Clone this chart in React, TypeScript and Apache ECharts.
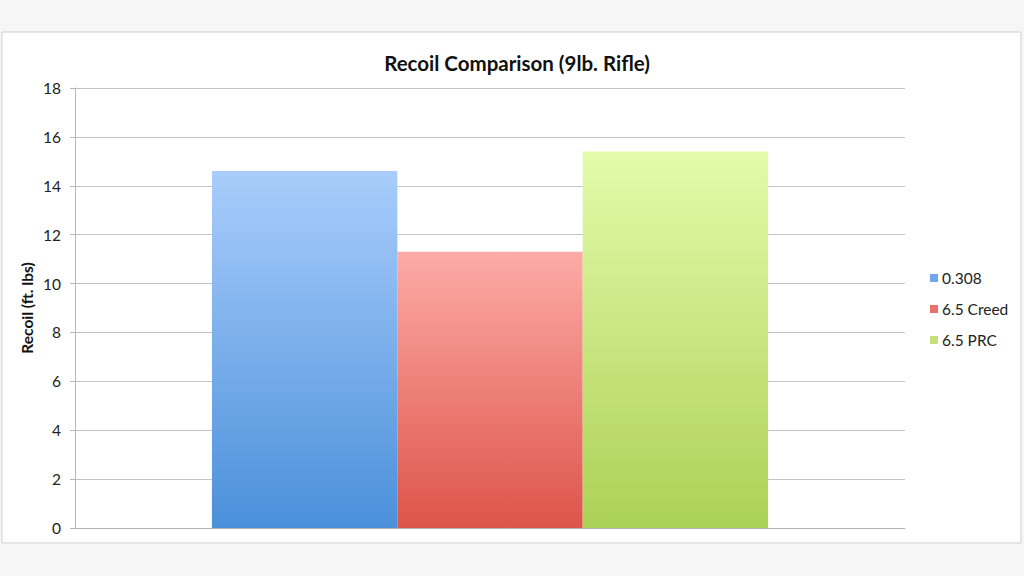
import React, { useEffect, useRef } from "react";
import * as echarts from "echarts";

const categories = [""];
const seriesNames = ["0.308", "6.5 Creed", "6.5 PRC"];
const seriesValues = [[14.6], [11.3], [15.4]];
const topColors = ["#a9cdfc", "#fdaba6", "#e3fbaa"];
const bottomColors = ["#4b90da", "#dd544a", "#acd157"];
const legendColors = ["#6fa8ea", "#ea7069", "#c6e07c"];

export default function App() {
  const ref = useRef<HTMLDivElement>(null);
  useEffect(() => {
    if (!ref.current) return;
    const chart = echarts.init(ref.current, null, { renderer: "svg" });
    const font = "Lato, 'Open Sans', sans-serif";
    chart.setOption({
      animation: false,
      backgroundColor: "#f6f6f6",
      graphic: [
        {
          type: "rect",
          shape: { x: 2, y: 32, width: 1019, height: 511 },
          style: { fill: "#ffffff", stroke: "#cfcfcf", lineWidth: 1 },
          z: -10,
          silent: true,
        },
      ],
      title: {
        text: "Recoil Comparison (9lb. Rifle)",
        left: 512,
        textAlign: "center",
        top: 47,
        textStyle: { fontFamily: font, fontSize: 20.5, fontWeight: "bold", color: "#111" },
      },
      legend: {
        orient: "vertical",
        left: 925,
        top: 265,
        itemWidth: 8,
        itemHeight: 8,
        itemGap: 15,
        icon: "rect",
        textStyle: { fontFamily: font, fontSize: 15.5, color: "#222", padding: [0, 0, 0, -1] },
        data: seriesNames.map((n, i) => ({ name: n, itemStyle: { color: legendColors[i] } })),
      },
      grid: { left: 75, right: 119, top: 88, bottom: 48, containLabel: false },
      xAxis: {
        type: "category",
        data: categories,
        axisLine: { show: true, lineStyle: { color: "#b5b5b5" } },
        axisTick: { show: false },
        axisLabel: { show: false },
      },
      yAxis: {
        type: "value",
        min: 0,
        max: 18,
        interval: 2,
        name: "Recoil (ft. lbs)",
        nameLocation: "middle",
        nameGap: 40,
        nameMoveOverlap: false,
        nameTextStyle: { fontFamily: font, fontSize: 15.5, fontWeight: "bold", color: "#111" },
        axisLine: { show: true, lineStyle: { color: "#b5b5b5" } },
        axisTick: { show: true, length: 5, lineStyle: { color: "#b5b5b5" } },
        axisLabel: { fontFamily: font, fontSize: 15.5, color: "#222", margin: 14 },
        splitLine: { show: true, lineStyle: { color: "#c4c4c4" } },
      },
      series: seriesNames.map((n, i) => ({
        name: n,
        type: "bar",
        data: seriesValues[i],
        barGap: "0%",
        barCategoryGap: "33%",
        itemStyle: {
          color: new echarts.graphic.LinearGradient(0, 0, 0, 1, [
            { offset: 0, color: topColors[i] },
            { offset: 1, color: bottomColors[i] },
          ]),
        },
      })),
    });
    return () => chart.dispose();
  }, []);
  return (
    <div
      ref={ref}
      style={{ position: "fixed", left: 0, top: 0, width: 1024, height: 576 }}
    />
  );
}
